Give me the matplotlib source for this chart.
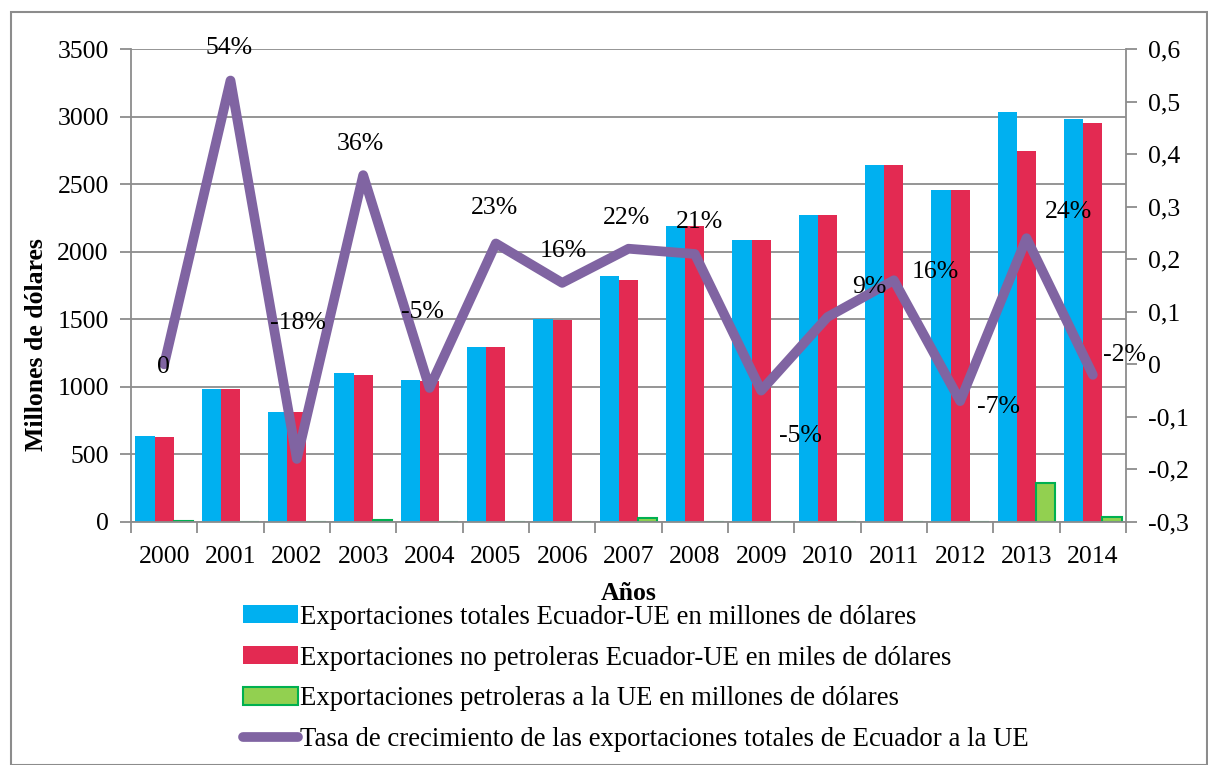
import matplotlib
matplotlib.use("Agg")
import matplotlib.pyplot as plt
from matplotlib.patches import Rectangle
from matplotlib.lines import Line2D
import numpy as np

years = ["2000", "2001", "2002", "2003", "2004", "2005", "2006", "2007",
         "2008", "2009", "2010", "2011", "2012", "2013", "2014"]
totales = [636, 984, 814, 1100, 1051, 1295, 1500, 1820, 2190, 2087, 2268, 2642, 2457, 3035, 2985]
no_petroleras = [629, 984, 814, 1088, 1045, 1295, 1495, 1790, 2190, 2087, 2268, 2642, 2457, 2745, 2950]
petroleras = [10, 0, 0, 18, 0, 3, 3, 28, 3, 3, 3, 0, 3, 290, 37]
tasa = [0.0, 0.54, -0.18, 0.36, -0.045, 0.23, 0.155, 0.22, 0.21, -0.05, 0.09, 0.16, -0.07, 0.24, -0.02]
tasa_labels = ["0", "54%", "-18%", "36%", "-5%", "23%", "16%", "22%", "21%", "-5%", "9%", "16%", "-7%", "24%", "-2%"]
label_offsets = [(-1, -3), (-1, 33), (1, 136), (-3, 31), (-7, 76), (-1, 35), (1, 32), (-2, 31),
                 (5, 32), (39, -45), (42, 30), (41, 8), (38, -6), (42, 26), (32, 20)]

legend_labels = ["Exportaciones totales Ecuador-UE en millones de dólares",
                 "Exportaciones no petroleras Ecuador-UE en miles de dólares",
                 "Exportaciones petroleras a la UE en millones de dólares",
                 "Tasa de crecimiento de las exportaciones totales de Ecuador a la UE"]

BLUE = "#00B0F0"
RED = "#E32A52"
GREEN = "#92D050"
GREEN_EDGE = "#00B050"
PURPLE = "#8064A2"
GRAY = "#8C8C8C"

plt.rcParams['font.family'] = ['Liberation Serif', 'DejaVu Serif']

fig = plt.figure(figsize=(12.08, 7.65), dpi=100)
fig.patches.append(Rectangle((11/1208, 0.0), 1 - 11/1208 - 0.0005, 1 - 12/765, transform=fig.transFigure,
                             fill=False, edgecolor=GRAY, linewidth=1.5, zorder=-1))

ax = fig.add_axes([131/1208, 1 - 522/765, (1126 - 131)/1208, (522 - 49)/765])
x = np.arange(len(years))
w = 0.29
ax.bar(x - w, totales, w, color=BLUE, zorder=2)
ax.bar(x, no_petroleras, w, color=RED, zorder=2)
ax.bar(x + w, petroleras, w, color=GREEN, edgecolor=GREEN_EDGE, linewidth=1.5, zorder=2)

ax.set_xlim(-0.5, len(years) - 0.5)
ax.set_ylim(0, 3500)
ax.set_yticks(np.arange(0, 3501, 500))
ax.yaxis.grid(True, color=GRAY, linewidth=1.3, zorder=0)
ax.set_axisbelow(True)
ax.set_xticks(np.arange(-0.5, len(years), 1.0), minor=False)
ax.set_xticklabels([])
ax.set_xticks(x, minor=True)
ax.set_xticklabels(years, minor=True)
ax.tick_params(axis='x', which='minor', length=0, labelsize=18.5, pad=17)
ax.tick_params(axis='x', which='major', length=8, color=GRAY, width=1.3)
ax.tick_params(axis='y', length=8, color=GRAY, width=1.3, labelsize=18.5, pad=8)
for s in ['top', 'right']:
    ax.spines[s].set_visible(False)
for s in ['left', 'bottom']:
    ax.spines[s].set_color(GRAY)
    ax.spines[s].set_linewidth(1.3)
ax.set_ylabel("Millones de dólares", fontsize=18.5, fontweight='bold', va='center')
ax.yaxis.set_label_coords((37 - 131) / 995, (522 - 345) / 473)
ax.set_xlabel("Años", fontsize=18.5, fontweight='bold', va='center')
ax.xaxis.set_label_coords(0.5, -(594 - 522) / 473)

ax2 = ax.twinx()
ax2.plot(x, tasa, color=PURPLE, linewidth=7, solid_joinstyle='round', solid_capstyle='round', zorder=5)
ax2.set_ylim(-0.3, 0.6)
ticks2 = np.round(np.arange(-0.3, 0.61, 0.1), 1)
ax2.set_yticks(ticks2)
ax2.set_yticklabels([("0" if abs(v) < 1e-9 else f"{v:.1f}".replace(".", ",")) for v in ticks2])
ax2.tick_params(axis='y', length=8, color=GRAY, width=1.3, labelsize=18.5, pad=8)
for s in ['top', 'left', 'bottom']:
    ax2.spines[s].set_visible(False)
ax2.spines['right'].set_color(GRAY)
ax2.spines['right'].set_linewidth(1.3)

for xi, v, lab, (dx, dy) in zip(x, tasa, tasa_labels, label_offsets):
    ax2.annotate(lab, (xi, v), xytext=(dx, dy), textcoords='offset pixels',
                 ha='center', va='center', fontsize=18.5, zorder=6, annotation_clip=False)

handles = [Rectangle((0, 0), 1, 1, facecolor=BLUE),
           Rectangle((0, 0), 1, 1, facecolor=RED),
           Rectangle((0, 0), 1, 1, facecolor=GREEN, edgecolor=GREEN_EDGE, linewidth=1.5),
           Line2D([0], [0], color=PURPLE, linewidth=7, solid_capstyle='round')]
fig.legend(handles, legend_labels, loc='upper left', bbox_to_anchor=(232/1208, 1 - 594/765),
           frameon=False, fontsize=19.3, handlelength=2.05, handleheight=0.65, handletextpad=0.08,
           labelspacing=0.59, borderaxespad=0)

fig.savefig("out.png", dpi=100)
